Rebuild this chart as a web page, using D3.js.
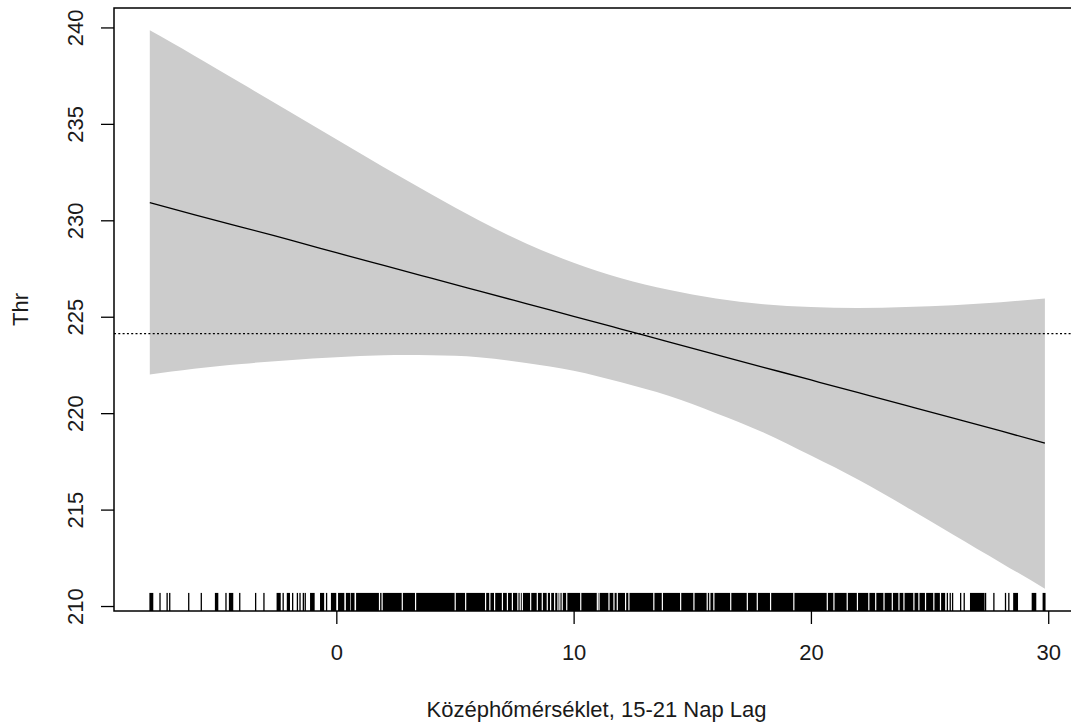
<!DOCTYPE html>
<html>
<head>
<meta charset="utf-8">
<script src="https://cdn.jsdelivr.net/npm/d3@7/dist/d3.min.js"></script>
<style>
  html, body { margin: 0; padding: 0; background: #fff; }
  svg { display: block; }
  text { font-family: "Liberation Sans", Arial, sans-serif; fill: #1a1a1a; }
</style>
</head>
<body>
<script>
// Smooth term: temperature (15–21 day lag) vs Thr, with confidence band and rug.
const tempGrid = [-7.86, -6, -4, -2, 0, 2, 4, 6, 8, 10, 12, 14, 16, 18, 20, 22, 24, 26, 28, 29.86];
const fitValues = [230.92, 230.3, 229.65, 229.0, 228.32, 227.66, 227.0, 226.34, 225.68, 225.02,
                   224.36, 223.7, 223.04, 222.38, 221.72, 221.06, 220.4, 219.74, 219.08, 218.44];
const upperValues = [239.85, 238.55, 237.1, 235.65, 234.2, 232.75, 231.35, 230.0, 228.8, 227.8,
                     227.0, 226.4, 225.95, 225.65, 225.5, 225.45, 225.5, 225.6, 225.75, 225.95];
const lowerValues = [222.0, 222.3, 222.55, 222.75, 222.9, 223.0, 223.0, 222.9, 222.6, 222.2,
                     221.6, 220.9, 220.0, 219.0, 217.8, 216.55, 215.15, 213.7, 212.25, 210.9];
const meanThr = 224.12;

const xTicks = [0, 10, 20, 30];
const yTicks = [210, 215, 220, 225, 230, 235, 240];
const xTitle = "Középhőmérséklet, 15-21 Nap Lag";
const yTitle = "Thr";

// Observed temperatures along the bottom (rug)
const rugSingles = [-7.43, -7.13, -7.02, -6.22, -5.69, -4.65, -4.07, -3.40, -3.05, -2.24,
                    -1.84, -1.64, -1.53, -1.39, -1.31, -0.41,
                    25.75, 25.87, 25.97, 26.31, 26.46, 27.36, 27.71, 28.20, 28.34];
const rugBlocks = [[-7.85, -7.74], [-5.09, -5.00], [-4.50, -4.37], [-2.49, -2.37], [-2.06, -1.98],
                   [-1.08, -0.94], [-0.66, -0.54], [-0.20, -0.03], [0.10, 0.31], [0.43, 0.55],
                   [0.63, 0.74], [26.73, 27.29], [28.55, 28.70], [29.33, 29.47], [29.79, 29.86]];
const rugDenseSpan = [0.86, 25.63];
const rugDenseGaps = [1.82, 1.93, 2.78, 3.34, 5.01, 5.45, 6.29, 6.47, 6.67, 7.00, 7.21, 7.42, 7.65,
                      7.75, 7.84, 8.19, 8.47, 8.68, 8.89, 9.03, 9.20, 9.34, 9.42, 9.52, 9.71, 10.30,
                      11.00, 11.07, 11.49, 11.70, 11.84, 12.19, 12.33, 13.38, 13.74, 14.51, 15.07,
                      15.63, 15.74, 15.91, 16.62, 17.32, 17.74, 18.30, 19.28, 20.69, 20.97, 21.53,
                      21.96, 22.44, 22.73, 23.08, 23.43, 23.71, 23.92, 24.34, 24.55, 24.83, 25.18, 25.46];

const W = 1071, H = 724;
const plot = { left: 114, top: 8, bottom: 611 };

// R-style 4% padding around the data range
function padded(ext) {
  const d = (ext[1] - ext[0]) * 0.04;
  return [ext[0] - d, ext[1] + d];
}
const xDom = padded(d3.extent(tempGrid));
const yDom = padded([d3.min(lowerValues), d3.max(upperValues)]);
const pxPerUnit = 23.73;
plot.right = plot.left + (xDom[1] - xDom[0]) * pxPerUnit;

const x = d3.scaleLinear().domain(xDom).range([plot.left, plot.right]);
const y = d3.scaleLinear().domain(yDom).range([plot.bottom, plot.top]);

const svg = d3.select("body").append("svg").attr("width", W).attr("height", H);

const rows = tempGrid.map((t, i) => ({ t, fit: fitValues[i], hi: upperValues[i], lo: lowerValues[i] }));

// confidence band
svg.append("path")
  .datum(rows)
  .attr("fill", "#cccccc")
  .attr("d", d3.area().x(d => x(d.t)).y0(d => y(d.lo)).y1(d => y(d.hi)).curve(d3.curveNatural));

// fitted curve
svg.append("path")
  .datum(rows)
  .attr("fill", "none")
  .attr("stroke", "#000")
  .attr("stroke-width", 1.3)
  .attr("d", d3.line().x(d => x(d.t)).y(d => y(d.fit)).curve(d3.curveNatural));

// mean level
svg.append("line")
  .attr("x1", plot.left).attr("x2", plot.right)
  .attr("y1", y(meanThr)).attr("y2", y(meanThr))
  .attr("stroke", "#000").attr("stroke-width", 1.3)
  .attr("stroke-dasharray", "2,2.3");

// rug
const rugTop = plot.bottom - 0.03 * (plot.bottom - plot.top);
const rug = svg.append("g").attr("fill", "#000");
rug.selectAll("rect.single").data(rugSingles).join("rect")
  .attr("class", "single")
  .attr("x", d => x(d) - 0.65).attr("width", 1.3)
  .attr("y", rugTop).attr("height", plot.bottom - rugTop);
rug.selectAll("rect.block").data(rugBlocks).join("rect")
  .attr("class", "block")
  .attr("x", d => x(d[0]) - 0.65).attr("width", d => x(d[1]) - x(d[0]) + 1.3)
  .attr("y", rugTop).attr("height", plot.bottom - rugTop);
const denseRuns = [];
let start = x(rugDenseSpan[0]) - 0.65;
rugDenseGaps.forEach(g => {
  denseRuns.push([start, x(g) - 0.6]);
  start = x(g) + 0.6;
});
denseRuns.push([start, x(rugDenseSpan[1]) + 0.65]);
rug.selectAll("rect.dense").data(denseRuns).join("rect")
  .attr("class", "dense")
  .attr("x", d => d[0]).attr("width", d => Math.max(0, d[1] - d[0]))
  .attr("y", rugTop).attr("height", plot.bottom - rugTop);

// frame
svg.append("rect")
  .attr("x", plot.left).attr("y", plot.top)
  .attr("width", plot.right - plot.left).attr("height", plot.bottom - plot.top)
  .attr("fill", "none").attr("stroke", "#000").attr("stroke-width", 1.5);

// axes
const tickLen = 13;
const xAxis = svg.append("g")
  .attr("transform", `translate(0,${plot.bottom})`)
  .call(d3.axisBottom(x).tickValues(xTicks).tickSize(tickLen).tickPadding(18).tickFormat(d3.format("d")));
const yAxis = svg.append("g")
  .attr("transform", `translate(${plot.left},0)`)
  .call(d3.axisLeft(y).tickValues(yTicks).tickSize(tickLen).tickPadding(0).tickFormat(d3.format("d")));

[xAxis, yAxis].forEach(g => {
  g.select(".domain").remove();
  g.selectAll(".tick line").attr("stroke", "#000").attr("stroke-width", 1.3);
  g.selectAll(".tick text").style("font-size", "22px").attr("fill", "#1a1a1a");
});
// x tick labels sit a little lower
xAxis.selectAll(".tick text").attr("y", null).attr("dy", null).attr("dominant-baseline", null)
  .attr("transform", "translate(0,49)");
// y tick labels are drawn rotated, reading upward
yAxis.selectAll(".tick text")
  .attr("x", null).attr("dy", null)
  .attr("text-anchor", "middle")
  .attr("transform", "translate(-31,0) rotate(-90)");

// axis titles
svg.append("text")
  .attr("x", (plot.left + 1081) / 2 - 1).attr("y", 716.5)
  .attr("text-anchor", "middle")
  .style("font-size", "22px")
  .text(xTitle);
svg.append("text")
  .attr("transform", `translate(28,${(plot.top + plot.bottom) / 2}) rotate(-90)`)
  .attr("text-anchor", "middle")
  .style("font-size", "22px")
  .text(yTitle);
</script>
</body>
</html>
